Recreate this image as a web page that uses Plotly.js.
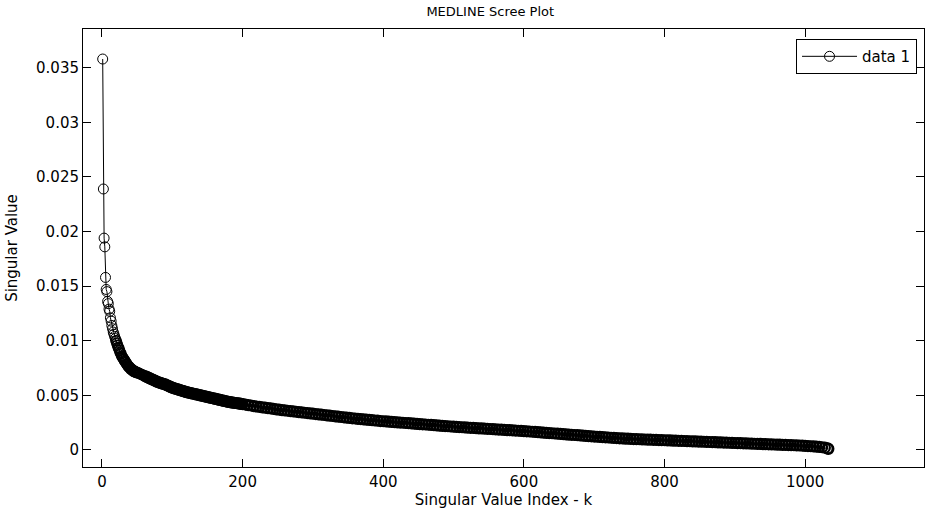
<!DOCTYPE html>
<html>
<head>
<meta charset="utf-8">
<script src="https://cdn.plot.ly/plotly-3.0.1.min.js"></script>
<style>html,body{margin:0;padding:0;background:#fff;}#chart{width:925px;height:510px;}</style>
</head>
<body>
<div id="chart"></div>
<script>
// Singular value index k and singular values
var kHead = [1,2,3,4,5,6,7,8,9,10,11,12,13,14,15,16,17,18,19,20,21,22,23,24,25,26,27,28,29,30,31,32,33,34,35,36,37,38,39,40,41,42,43,44,45,46,47,48,49,50];
var vHead = [0.0358,0.0239,0.0194,0.0186,0.0158,0.0147,0.0145,0.0136,0.0134,0.0129,0.0127,0.0121,0.0118,0.0114,0.0111,0.0108,0.0106,0.0104,0.0102,0.0100,0.0098,0.0096,0.0094,0.0093,0.0091,0.0089,0.0088,0.0086,0.0085,0.0084,0.0083,0.0082,0.0081,0.0080,0.0079,0.0078,0.0077,0.0076,0.0076,0.0075,0.0074,0.0074,0.0073,0.0073,0.0072,0.0072,0.0072,0.0071,0.0071,0.0071];

var kMid = [52,54,56,58,60,62,64,66,68,70,72,74,76,78,80,82,84,86,88,90,92,94,96,98,100,102,104,106,108,110,112,114,116,118,120,122,124,126,128,130,132,134,136,138,140,142,144,146,148,150,152,154,156,158,160,162,164,166,168,170,172,174,176,178,180,182,184,186,188,190,192,194,196,198,200];
var vMid = [0.00704,0.00698,0.00692,0.00686,0.00680,0.00674,0.00668,0.00662,0.00656,0.00650,0.00644,0.00638,0.00632,0.00626,0.00620,0.00616,0.00612,0.00608,0.00604,0.00600,0.00594,0.00588,0.00582,0.00576,0.00570,0.00566,0.00562,0.00558,0.00554,0.00550,0.00546,0.00542,0.00538,0.00534,0.00530,0.00527,0.00524,0.00521,0.00518,0.00515,0.00512,0.00509,0.00506,0.00503,0.00500,0.00497,0.00494,0.00491,0.00488,0.00485,0.00482,0.00479,0.00476,0.00473,0.00470,0.00467,0.00464,0.00461,0.00458,0.00455,0.00452,0.00449,0.00446,0.00443,0.00440,0.00438,0.00436,0.00434,0.00432,0.00430,0.00428,0.00426,0.00424,0.00422,0.00420];

var kTail = [204,208,212,216,220,224,228,232,236,240,244,248,252,256,260,264,268,272,276,280,284,288,292,296,300,304,308,312,316,320,324,328,332,336,340,344,348,352,356,360,364,368,372,376,380,384,388,392,396,400,404,408,412,416,420,424,428,432,436,440,444,448,452,456,460,464,468,472,476,480,484,488,492,496,500,504,508,512,516,520,524,528,532,536,540,544,548,552,556,560,564,568,572,576,580,584,588,592,596,600,604,608,612,616,620,624,628,632,636,640,644,648,652,656,660,664,668,672,676,680,684,688,692,696,700,704,708,712,716,720,724,728,732,736,740,744,748,752,756,760,764,768,772,776,780,784,788,792,796,800,804,808,812,816,820,824,828,832,836,840,844,848,852,856,860,864,868,872,876,880,884,888,892,896,900,904,908,912,916,920,924,928,932,936,940,944,948,952,956,960,964,968,972,976,980,984,988,992,996,1000,1004,1008,1012,1016,1020,1024,1028,1032,1033];
var vTail = [0.00416,0.00411,0.00407,0.00402,0.00398,0.00394,0.00390,0.00387,0.00383,0.00380,0.00376,0.00372,0.00369,0.00365,0.00362,0.00359,0.00356,0.00353,0.00350,0.00347,0.00344,0.00341,0.00338,0.00335,0.00332,0.00329,0.00326,0.00323,0.00320,0.00317,0.00314,0.00311,0.00308,0.00305,0.00302,0.00299,0.00296,0.00293,0.00290,0.00288,0.00285,0.00283,0.00280,0.00278,0.00275,0.00273,0.00270,0.00268,0.00265,0.00263,0.00261,0.00259,0.00257,0.00255,0.00253,0.00251,0.00249,0.00247,0.00245,0.00243,0.00241,0.00239,0.00237,0.00235,0.00233,0.00231,0.00229,0.00227,0.00225,0.00223,0.00221,0.00219,0.00217,0.00215,0.00213,0.00211,0.00210,0.00208,0.00206,0.00205,0.00203,0.00202,0.00200,0.00198,0.00197,0.00195,0.00194,0.00192,0.00190,0.00189,0.00187,0.00186,0.00184,0.00182,0.00181,0.00179,0.00178,0.00176,0.00174,0.00173,0.00171,0.00169,0.00167,0.00165,0.00163,0.00161,0.00159,0.00157,0.00155,0.00153,0.00151,0.00149,0.00147,0.00145,0.00143,0.00141,0.00139,0.00137,0.00135,0.00133,0.00131,0.00129,0.00127,0.00125,0.00123,0.00121,0.00119,0.00118,0.00116,0.00114,0.00112,0.00111,0.00109,0.00107,0.00106,0.00104,0.00103,0.00101,0.00100,0.00099,0.00098,0.00097,0.00096,0.00095,0.00094,0.00093,0.00092,0.00091,0.00090,0.00089,0.00088,0.00087,0.00086,0.00085,0.00084,0.00083,0.00082,0.00081,0.00080,0.00079,0.00078,0.00077,0.00076,0.00075,0.00074,0.00073,0.00072,0.00071,0.00070,0.00069,0.00068,0.00067,0.00066,0.00065,0.00064,0.00063,0.00062,0.00061,0.00060,0.00059,0.00058,0.00057,0.00056,0.00055,0.00054,0.00053,0.00052,0.00051,0.00050,0.00049,0.00048,0.00047,0.00046,0.00045,0.00044,0.00043,0.00042,0.00041,0.00040,0.00038,0.00036,0.00034,0.00032,0.00030,0.00028,0.00025,0.00021,0.00014,0.00010];

var xTickVals = [0,200,400,600,800,1000];
var xTickText = ['0','200','400','600','800','1000'];
var yTickVals = [0,0.005,0.01,0.015,0.02,0.025,0.03,0.035];
var yTickText = ['0','0.005','0.01','0.015','0.02','0.025','0.03','0.035'];

var kAll = kHead.concat(kMid, kTail);
var vAll = vHead.concat(vMid, vTail);

// split: sparse first circles (thin outline, carries the legend) and the dense band
var SPLIT_K = 20;
var kFirst = [], vFirst = [], kRest = [], vRest = [];
kAll.forEach(function (k, i) {
  if (k <= SPLIT_K) { kFirst.push(k); vFirst.push(vAll[i]); }
  if (k >= SPLIT_K) { kRest.push(k); vRest.push(vAll[i]); }
});
var restWidths = kRest.map(function (k) { return k <= 60 ? 1.5 : 2.2; });

var FONT = 'DejaVu Sans, Liberation Sans, Arial, sans-serif';

var traceFirst = {
  x: kFirst, y: vFirst, type: 'scatter', mode: 'lines+markers', name: 'data 1',
  line: {color: '#000', width: 1},
  marker: {symbol: 'circle-open', size: 10, color: '#000', line: {color: '#000', width: 1}}
};
var traceRest = {
  x: kRest, y: vRest, type: 'scatter', mode: 'lines+markers', name: 'data 1', showlegend: false,
  line: {color: '#000', width: 1},
  marker: {symbol: 'circle-open', size: 10, color: '#000', line: {color: '#000', width: restWidths}}
};

var axisCommon = {
  showline: true, linecolor: '#000', linewidth: 1, mirror: 'ticks',
  ticks: 'inside', ticklen: 8, tickwidth: 1, tickcolor: '#000',
  showgrid: false, zeroline: false, tickmode: 'array',
  tickfont: {family: FONT, size: 15, color: '#000'}
};

var layout = {
  width: 925, height: 510,
  margin: {l: 83, r: 1, t: 29, b: 43},
  paper_bgcolor: '#fff', plot_bgcolor: '#fff',
  font: {family: FONT, color: '#000'},
  title: {text: 'MEDLINE Scree Plot', font: {family: FONT, size: 13, color: '#000'},
          x: 0.53, xanchor: 'center', xref: 'container', y: 0.977, yanchor: 'middle', yref: 'container'},
  xaxis: Object.assign({}, axisCommon, {
    range: [-27, 1169], tickvals: xTickVals, ticktext: xTickText, ticklabelstandoff: 1,
    title: {text: 'Singular Value Index - k', font: {family: FONT, size: 15, color: '#000'}, standoff: 3}
  }),
  yaxis: Object.assign({}, axisCommon, {
    range: [-0.00156, 0.03855], tickvals: yTickVals, ticktext: yTickText,
    title: {text: 'Singular Value', font: {family: FONT, size: 15, color: '#000'}, standoff: 14}
  }),
  showlegend: true,
  legend: {x: 0.9917, xanchor: 'right', y: 0.977, yanchor: 'top',
           bordercolor: '#000', borderwidth: 1, bgcolor: '#fff',
           font: {family: FONT, size: 15, color: '#000'}, itemwidth: 55}
};

Plotly.newPlot('chart', [traceFirst, traceRest], layout, {displayModeBar: false, staticPlot: true});
</script>
</body>
</html>
